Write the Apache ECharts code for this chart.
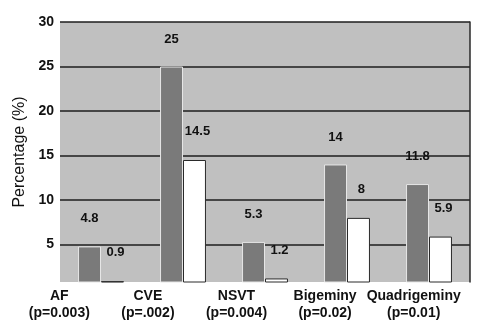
<!DOCTYPE html>
<html>
<head>
<meta charset="utf-8">
<script src="https://cdn.jsdelivr.net/npm/echarts@6/dist/echarts.min.js"></script>
<style>html,body{margin:0;padding:0;background:#fff;}#c{width:481px;height:334px;}</style>
</head>
<body>
<div id="c"></div>
<script>
const categories = ['AF', 'CVE', 'NSVT', 'Bigeminy', 'Quadrigeminy'];
const pValues = ['(p=0.003)', '(p=.002)', '(p=0.004)', '(p=0.02)', '(p=0.01)'];
const seriesA = [4.8, 25, 5.3, 14, 11.8];
const seriesB = [0.9, 14.5, 1.2, 8, 5.9];
const yTicks = [5, 10, 15, 20, 25, 30];

const FONT = 'Liberation Sans, Arial, sans-serif';
const chart = echarts.init(document.getElementById('c'), null, {renderer: 'canvas'});
const yMin = 0.8, yMax = 30;

chart.setOption({
  animation: false,
  grid: [
    {left: 60, right: 11, top: 22, bottom: 52, show: true, backgroundColor: '#c0c0c0', borderWidth: 0},
    {left: 15, right: 23, top: 22, bottom: 52, show: false}
  ],
  xAxis: [
    {type: 'category', gridIndex: 0, data: categories, axisLine: {show: false}, axisTick: {show: false}, axisLabel: {show: false}},
    {type: 'category', gridIndex: 1, data: categories.map((c, i) => c + '\n' + pValues[i]),
      axisLine: {show: false}, axisTick: {show: false},
      axisLabel: {show: true, margin: 6, fontFamily: FONT, fontWeight: 'bold', fontSize: 14, color: '#111', lineHeight: 17, interval: 0}}
  ],
  yAxis: [
    {type: 'value', gridIndex: 0, min: yMin, max: yMax,
      name: 'Percentage (%)', nameLocation: 'middle', nameGap: 27,
      nameTextStyle: {fontFamily: FONT, fontSize: 16, color: '#111'},
      axisLine: {show: false}, axisTick: {show: false},
      axisLabel: {showMinLabel: false, margin: 6, fontFamily: FONT, fontWeight: 'bold', fontSize: 14, color: '#111',
        formatter: v => (yTicks.indexOf(v) >= 0 ? String(v) : '')},
      splitLine: {show: true, showMinLine: false, lineStyle: {color: '#1e1e1e', width: 1.5}}
    },
    {type: 'value', gridIndex: 0, position: 'right', min: yMin, max: yMax,
      axisLine: {show: true, lineStyle: {color: '#2a2a2a', width: 1.5}}, axisTick: {show: false}, axisLabel: {show: false}, splitLine: {show: false}},
    {type: 'value', gridIndex: 1, min: yMin, max: yMax, show: false}
  ],
  series: [
    {type: 'bar', xAxisIndex: 0, yAxisIndex: 0, data: seriesA, barGap: '0%', barCategoryGap: '44%',
      itemStyle: {color: '#7a7a7a', borderColor: '#e6e6e6', borderWidth: 1},
      label: {show: true, position: 'top', distance: 21, fontFamily: FONT, fontWeight: 'bold', fontSize: 13, color: '#111'}},
    {type: 'bar', xAxisIndex: 0, yAxisIndex: 0, data: seriesB, barGap: '0%', barCategoryGap: '44%',
      itemStyle: {color: '#ffffff', borderColor: '#2a2a2a', borderWidth: 1},
      label: {show: true, position: 'top', distance: 22, offset: [3, 0], fontFamily: FONT, fontWeight: 'bold', fontSize: 13, color: '#111'}}
  ]
});
</script>
</body>
</html>
